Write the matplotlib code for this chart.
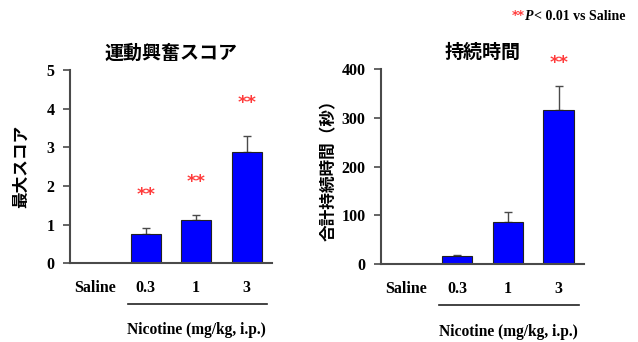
import matplotlib.pyplot as plt
import numpy as np

plt.rcParams['font.family'] = ['Liberation Serif', 'Noto Sans CJK JP']

groups = ["Saline", "0.3", "1", "3"]

score_mean = [0, 0.75, 1.13, 2.89]
score_sem = [0, 0.17, 0.12, 0.41]
score_sig = [False, True, True, True]

dur_mean = [0, 16, 86, 317]
dur_sem = [0, 4, 21, 48]
dur_sig = [False, False, False, True]

jp = ['Noto Sans CJK JP']
bar_color = "#0000ff"
edge = "#4a4a4a"
star_red = "#ff3b3b"

fig = plt.figure(figsize=(6.38, 3.42), dpi=100)
ax1 = fig.add_axes([0.1097, 0.2301, 0.3166, 0.5652])
ax2 = fig.add_axes([0.5972, 0.2272, 0.3182, 0.5710])


def draw_panel(ax, means, sems, sig, ymax, step, star_gap, title, ylabel, ylabel_x):
    x = np.arange(len(groups))
    ax.bar(x, means, width=0.6, color=bar_color, edgecolor="#222222", linewidth=0.8, zorder=2)
    # one-sided error bars (upper only)
    ax.errorbar(x[1:], means[1:], yerr=[np.zeros(len(x) - 1), sems[1:]], fmt="none",
                ecolor=edge, elinewidth=1.0, capsize=3, capthick=1.0, zorder=1)
    for xi, m, s, flag in zip(x, means, sems, sig):
        if flag:
            ax.text(xi, m + s + star_gap, "**", color=star_red, ha="center", va="center",
                    fontsize=13, fontweight="bold", family="DejaVu Sans", clip_on=False)
    ax.set_xlim(-0.5, 3.5)
    ax.set_ylim(0, ymax)
    ax.set_yticks(np.arange(0, ymax + 1e-9, step))
    ax.set_xticks(x)
    ax.set_xticklabels(groups)
    ax.tick_params(axis="x", length=0, pad=12)
    ax.tick_params(axis="y", length=5, width=1.2, color=edge, pad=6)
    for lab in ax.get_xticklabels() + ax.get_yticklabels():
        lab.set_fontsize(11.5)
        lab.set_fontweight("bold")
    for side in ("top", "right"):
        ax.spines[side].set_visible(False)
    for side in ("left", "bottom"):
        ax.spines[side].set_color(edge)
        ax.spines[side].set_linewidth(1.5)
    ax.set_title(title, family=jp, fontsize=13.7, fontweight="bold", pad=8)
    ax.set_ylabel(ylabel, family=jp, fontsize=12, fontweight="bold")
    ax.yaxis.set_label_coords(ylabel_x, 0.5)
    # bracket line under nicotine doses
    ax.plot([0.64, 3.4], [-0.21, -0.21], transform=ax.get_xaxis_transform(),
            color="#222222", linewidth=1.2, clip_on=False)
    ax.text(2.0, -0.345, "Nicotine (mg/kg, i.p.)", transform=ax.get_xaxis_transform(),
            ha="center", va="center", fontsize=11.2, fontweight="bold")


draw_panel(ax1, score_mean, score_sem, score_sig, 5, 1, 0.85,
           "運動興奮スコア", "最大スコア", -0.20)
draw_panel(ax2, dur_mean, dur_sem, dur_sig, 400, 100, 47,
           "持続時間", "合計持続時間（秒）", -0.21)

# significance footnote, built right to left
tail = fig.text(626 / 638, 1 - 17 / 342, "< 0.01 vs Saline", fontsize=10,
                fontweight="bold", ha="right", va="center")
p_lab = fig.text(0, 0, "P", fontsize=10, fontweight="bold", style="italic",
                 ha="right", va="center")
fig.canvas.draw()
renderer = fig.canvas.get_renderer()
bb = tail.get_window_extent(renderer)
p_lab.set_position(((bb.x0 - 1) / fig.bbox.width, 1 - 17 / 342))
fig.canvas.draw()
bp = p_lab.get_window_extent(renderer)
fig.text((bp.x0 - 0.5) / fig.bbox.width, 1 - 15 / 342, "**", color=star_red, fontsize=9,
         fontweight="bold", family="DejaVu Sans", ha="right", va="center")

fig.savefig("out.png", dpi=100)
